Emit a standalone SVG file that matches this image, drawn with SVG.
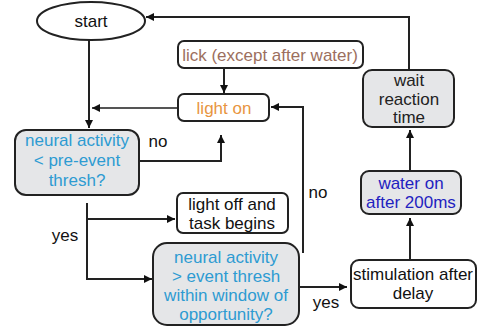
<svg xmlns="http://www.w3.org/2000/svg" width="479" height="333" viewBox="0 0 479 333">
<style>
text{font-family:"Liberation Sans",Arial,sans-serif;font-size:17px;text-anchor:middle}
.box{fill:#fff;stroke:#222;stroke-width:2}
.gray{fill:#e5e6e8;stroke:#222;stroke-width:2}
.c{fill:none;stroke:#222;stroke-width:2}
.blue{fill:#2d9bd2}
</style>
<defs>
<marker id="ah" viewBox="0 0 10 10" refX="10" refY="5" markerWidth="9" markerHeight="8" markerUnits="userSpaceOnUse" orient="auto">
<path d="M0,0L10,5L0,10z" fill="#111"/>
</marker>
</defs>
<rect width="479" height="333" fill="#fff"/>
<g id="connectors">
<path class="c" d="M89,40V128" marker-end="url(#ah)"/>
<path class="c" d="M224,68V93" marker-end="url(#ah)"/>
<path class="c" d="M178,108H92" marker-end="url(#ah)" style="stroke:#555"/>
<path class="c" d="M139,161H221V135" marker-end="url(#ah)"/>
<path class="c" d="M303,253V107H271" marker-end="url(#ah)"/>
<path class="c" d="M87,203V279H152" marker-end="url(#ah)"/>
<path class="c" d="M87,219H175" marker-end="url(#ah)"/>
<path class="c" d="M300,287H347" marker-end="url(#ah)"/>
<path class="c" d="M410,260V218" marker-end="url(#ah)"/>
<path class="c" d="M410,171V130" marker-end="url(#ah)"/>
<path class="c" d="M409,70V17H146" marker-end="url(#ah)"/>
<text x="158" y="147" fill="#111">no</text>
<text x="318" y="198" fill="#111">no</text>
<text x="65" y="241" fill="#111">yes</text>
<text x="326" y="308" fill="#111">yes</text>
</g>
<g id="start">
<ellipse class="box" cx="91" cy="21" rx="54" ry="19"/>
<text x="91" y="27" fill="#111">start</text>
</g>
<g id="lick">
<rect class="box" x="178" y="41" width="185" height="27" rx="6"/>
<text x="270" y="61" fill="#9c6f5e">lick (except after water)</text>
</g>
<g id="light-on">
<rect class="box" x="178" y="94" width="91" height="27" rx="6"/>
<text x="224" y="114" fill="#e8953f">light on</text>
</g>
<g id="neural1">
<rect class="gray" x="15" y="130" width="124" height="65" rx="11"/>
<text class="blue" x="77" y="146">neural activity</text>
<text class="blue" x="77" y="166">&lt; pre-event</text>
<text class="blue" x="77" y="186">thresh?</text>
</g>
<g id="light-off">
<rect class="box" x="177" y="193" width="111" height="40" rx="6"/>
<text x="232" y="210" fill="#111">light off and</text>
<text x="232" y="229" fill="#111">task begins</text>
</g>
<g id="neural2">
<rect class="gray" x="153" y="243" width="146" height="82" rx="14"/>
<text class="blue" x="226" y="263">neural activity</text>
<text class="blue" x="226" y="282">&gt; event thresh</text>
<text class="blue" x="226" y="301">within window of</text>
<text class="blue" x="226" y="320">opportunity?</text>
</g>
<g id="stimulation">
<rect class="box" x="351" y="260" width="125" height="48" rx="8"/>
<text x="413" y="280" fill="#111">stimulation after</text>
<text x="413" y="299" fill="#111">delay</text>
</g>
<g id="water">
<rect class="gray" x="361" y="171" width="100" height="43" rx="8"/>
<text x="411" y="189" fill="#1f22c0">water on</text>
<text x="411" y="208" fill="#1f22c0">after 200ms</text>
</g>
<g id="wait">
<rect class="gray" x="363" y="70" width="91" height="57" rx="9"/>
<text x="409" y="86" fill="#222">wait</text>
<text x="409" y="105" fill="#222">reaction</text>
<text x="409" y="123" fill="#222">time</text>
</g>
</svg>
